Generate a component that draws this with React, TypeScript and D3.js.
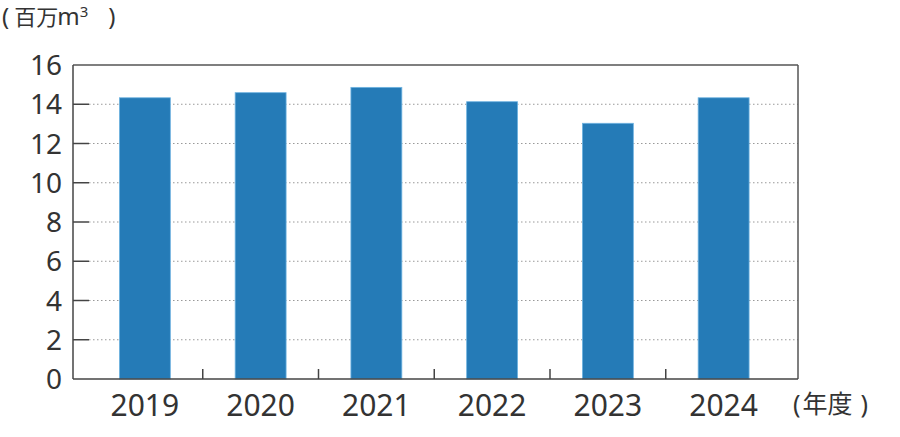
import React from "react";
import * as d3 from "d3";

const years = ["2019", "2020", "2021", "2022", "2023", "2024"];
const values = [14.33, 14.59, 14.86, 14.13, 13.03, 14.33];
const yTicks = [0, 2, 4, 6, 8, 10, 12, 14, 16];

const W = 900;
const H = 437;
const frame = { left: 73, right: 798, top: 65, bottom: 379 };
const NUM_FONT = "'Noto Sans', 'Open Sans', sans-serif";
const MIX_FONT = "'Noto Sans', 'Noto Sans CJK JP', sans-serif";

export default function App() {
  const x = d3.scaleBand<string>().domain(years).range([87, 781.5]).padding(0);
  const y = d3.scaleLinear().domain([0, 16]).range([frame.bottom, frame.top]);
  const bw = x.bandwidth() * 0.44;
  const textColor = "#333";
  const axisColor = "#444";

  return (
    <div style={{ position: "absolute", left: 0, top: 0 }}>
      <svg width={W} height={H} style={{ display: "block" }}>
        <rect x={0} y={0} width={W} height={H} fill="#fff" />
        {/* grid */}
        {yTicks.slice(1, -1).map((t) => (
          <line
            key={"g" + t}
            x1={frame.left + 16}
            x2={frame.right}
            y1={y(t)}
            y2={y(t)}
            stroke="#999"
            strokeWidth={1}
            strokeDasharray="1.5,2.5"
          />
        ))}
        {/* bars */}
        {years.map((yr, i) => {
          const cx = (x(yr) as number) + x.bandwidth() / 2;
          return (
            <rect
              key={yr}
              x={cx - bw / 2}
              y={y(values[i])}
              width={bw}
              height={frame.bottom - y(values[i])}
              fill="#257bb7"
              stroke="#6fb3e0"
              strokeWidth={0.8}
            />
          );
        })}
        {/* frame */}
        <line x1={frame.left} x2={frame.right} y1={frame.top} y2={frame.top} stroke="#555" strokeWidth={1.5} />
        <line x1={frame.right} x2={frame.right} y1={frame.top} y2={frame.bottom} stroke="#555" strokeWidth={1.5} />
        <line x1={frame.left} x2={frame.left} y1={frame.top} y2={frame.bottom} stroke={axisColor} strokeWidth={1.5} />
        <line x1={frame.left} x2={frame.right} y1={frame.bottom} y2={frame.bottom} stroke={axisColor} strokeWidth={1.5} />
        {/* y ticks */}
        {yTicks.slice(1, -1).map((t) => (
          <line key={"yt" + t} x1={frame.left} x2={frame.left + 16} y1={y(t)} y2={y(t)} stroke={axisColor} strokeWidth={1.5} />
        ))}
        {yTicks.map((t) => (
          <text
            key={"yl" + t}
            x={62}
            y={y(t)}
            dy="0.36em"
            textAnchor="end"
            fontFamily={NUM_FONT}
            fontSize={28}
            fill={textColor}
          >
            {t}
          </text>
        ))}
        {/* x ticks at band boundaries */}
        {years.slice(1).map((yr) => (
          <line
            key={"xt" + yr}
            x1={x(yr) as number}
            x2={x(yr) as number}
            y1={frame.bottom}
            y2={frame.bottom - 10}
            stroke={axisColor}
            strokeWidth={1.5}
          />
        ))}
        {years.map((yr) => (
          <text
            key={"xl" + yr}
            x={(x(yr) as number) + x.bandwidth() / 2}
            y={416}
            textAnchor="middle"
            fontFamily={NUM_FONT}
            fontSize={30}
            fill={textColor}
          >
            {yr}
          </text>
        ))}
        <text x={793} y={413} fontFamily={MIX_FONT} fontSize={25} fill={textColor}>
          (<tspan dx={2}>年度</tspan><tspan dx={8}>)</tspan>
        </text>
        <text x={2} y={25} fontFamily={MIX_FONT} fontSize={24} fill={textColor}>
          (<tspan dx={5} fontSize={22}>百万</tspan><tspan dx={-1}>m</tspan><tspan dy={-8} fontSize={15}>3</tspan><tspan dy={8} dx={20}>)</tspan>
        </text>
      </svg>
    </div>
  );
}
